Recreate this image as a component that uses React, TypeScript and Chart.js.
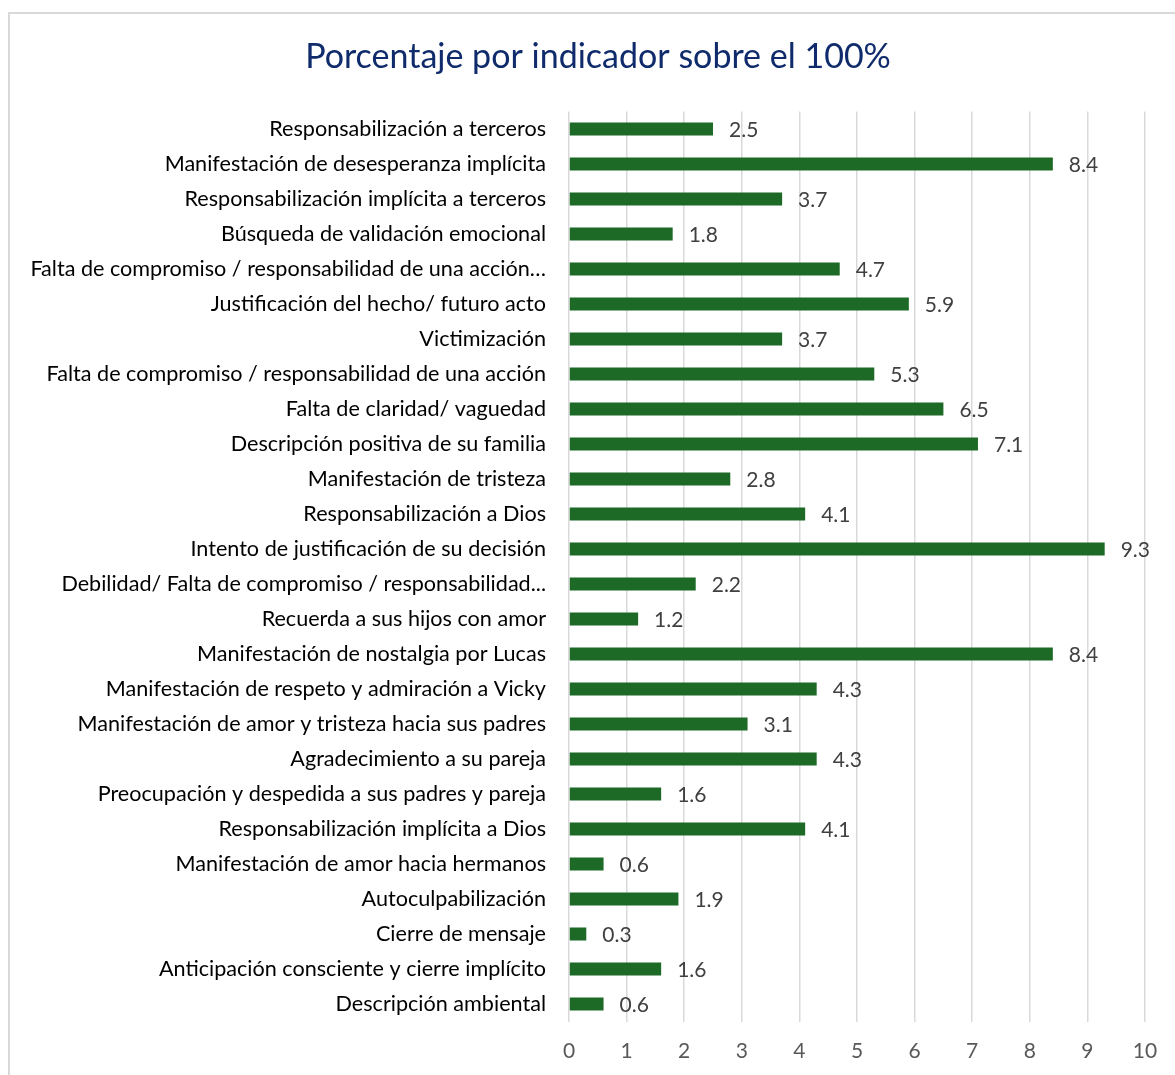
import React, { useEffect, useRef } from "react";
import { Chart, registerables } from "chart.js";

Chart.register(...registerables);

const TITLE = "Porcentaje por indicador sobre el 100%";

const categories: string[] = [
  "Responsabilización a terceros",
  "Manifestación de desesperanza implícita",
  "Responsabilización implícita a terceros",
  "Búsqueda de validación emocional",
  "Falta de compromiso / responsabilidad de una acción…",
  "Justificación del hecho/ futuro acto",
  "Victimización",
  "Falta de compromiso / responsabilidad de una acción",
  "Falta de claridad/ vaguedad",
  "Descripción positiva de su familia",
  "Manifestación de tristeza",
  "Responsabilización a Dios",
  "Intento de justificación de su decisión",
  "Debilidad/ Falta de compromiso / responsabilidad...",
  "Recuerda a sus hijos con amor",
  "Manifestación de nostalgia por Lucas",
  "Manifestación de respeto y admiración a Vicky",
  "Manifestación de amor y tristeza hacia sus padres",
  "Agradecimiento a su pareja",
  "Preocupación y despedida a sus padres y pareja",
  "Responsabilización implícita a Dios",
  "Manifestación de amor hacia hermanos",
  "Autoculpabilización",
  "Cierre de mensaje",
  "Anticipación consciente y cierre implícito",
  "Descripción ambiental",
];

const values: number[] = [
  2.5, 8.4, 3.7, 1.8, 4.7, 5.9, 3.7, 5.3, 6.5, 7.1, 2.8, 4.1, 9.3, 2.2, 1.2,
  8.4, 4.3, 3.1, 4.3, 1.6, 4.1, 0.6, 1.9, 0.3, 1.6, 0.6,
];

const xTicks: number[] = [0, 1, 2, 3, 4, 5, 6, 7, 8, 9, 10];

const FONT = "Lato, 'Open Sans', sans-serif";

const framePlugin = {
  id: "frame",
  beforeDraw(chart: any) {
    const ctx = chart.ctx;
    ctx.save();
    ctx.fillStyle = "#ffffff";
    ctx.fillRect(0, 0, chart.width, chart.height);
    ctx.strokeStyle = "#d9d9d9";
    ctx.lineWidth = 2;
    ctx.strokeRect(9, 13, chart.width + 50, chart.height + 50);
    ctx.restore();
  },
  afterDraw(chart: any) {
    const ctx = chart.ctx;
    ctx.save();
    ctx.fillStyle = "#0f2b6b";
    ctx.font = `34px ${FONT}`;
    ctx.textAlign = "center";
    ctx.textBaseline = "middle";
    ctx.fillText(TITLE, 598, 57);
    ctx.restore();
  },
};

const valueLabelPlugin = {
  id: "valueLabels",
  afterDatasetsDraw(chart: any) {
    const ctx = chart.ctx;
    const meta = chart.getDatasetMeta(0);
    const ds = chart.data.datasets[0];
    ctx.save();
    ctx.fillStyle = "#404040";
    ctx.font = `21px ${FONT}`;
    ctx.textAlign = "left";
    ctx.textBaseline = "middle";
    meta.data.forEach((bar: any, i: number) => {
      const v = ds.data[i] as number;
      ctx.fillText(v.toFixed(1), bar.x + 16, bar.y + 1);
    });
    ctx.restore();
  },
};

export default function App() {
  const ref = useRef<HTMLCanvasElement | null>(null);

  useEffect(() => {
    if (!ref.current) return;
    const chart = new Chart(ref.current, {
      type: "bar",
      data: {
        labels: categories,
        datasets: [
          {
            data: values,
            backgroundColor: "#1d6a27",
            borderWidth: 0,
            barPercentage: 0.74,
            categoryPercentage: 0.5,
          },
        ],
      },
      options: {
        indexAxis: "y",
        responsive: false,
        animation: false,
        layout: { padding: { left: 10, right: 30, top: 111.5, bottom: 0 } },
        plugins: {
          legend: { display: false },
          title: { display: false },
          tooltip: { enabled: false },
        },
        scales: {
          x: {
            min: 0,
            max: 10,
            afterBuildTicks(scale: any) {
              scale.ticks = xTicks.map((v) => ({ value: v }));
            },
            afterFit(scale: any) {
              scale.height = 53.5;
            },
            grid: { color: "#d9d9d9", lineWidth: 1.5, drawTicks: false },
            border: { display: false },
            ticks: {
              color: "#595959",
              font: { size: 21, family: FONT },
              padding: 17,
              maxRotation: 0,
            },
          },
          y: {
            afterFit(scale: any) {
              scale.width = 559;
            },
            grid: { display: false, drawTicks: false },
            border: { display: false },
            ticks: {
              autoSkip: false,
              color: "#000000",
              font: { size: 21.6, family: FONT },
              padding: 23,
              crossAlign: "near",
            },
          },
        },
      },
      plugins: [framePlugin, valueLabelPlugin],
    });
    return () => chart.destroy();
  }, []);

  return (
    <div style={{ position: "absolute", left: 0, top: 0, width: 1175, height: 1075, overflow: "hidden" }}>
      <canvas ref={ref} width={1175} height={1075} style={{ display: "block" }} />
    </div>
  );
}
